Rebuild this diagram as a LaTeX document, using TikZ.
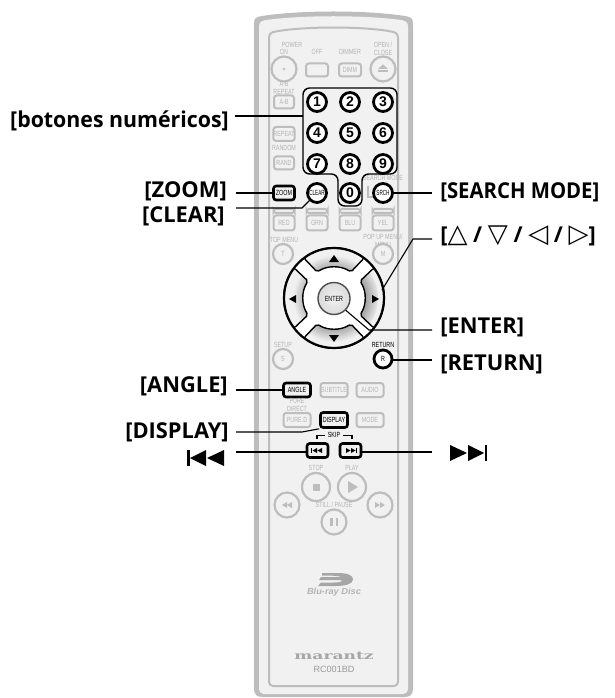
\documentclass[tikz,border=0pt]{standalone}
\usepackage{fontspec}
\setmainfont{Liberation Sans}
\newfontfamily\lblfont{Open Sans}[BoldFont={Open Sans Bold}]
\newfontfamily\symfont{DejaVu Sans}[BoldFont={DejaVu Sans Bold}]
\newfontfamily\serifwide{DejaVu Serif}
\newcommand{\cn}[1]{\scalebox{.72}[1]{#1}}
\newcommand{\tri}[1]{{\fontsize{19.5}{20}\selectfont\symfont\bfseries\char"#1}}
\definecolor{rg}{HTML}{BDBDBD}
\definecolor{rt}{HTML}{B4B4B4}
\definecolor{rbg}{HTML}{F1F1F1}
\tikzset{
  px/.style={line width=#1*.75pt},
  rlabel/.style={inner sep=0pt,font=\fontsize{16.4}{18}\selectfont\lblfont\bfseries,text=black},
  small/.style={inner sep=0pt,text=rt,font=\fontsize{5.6}{5.8}\selectfont,align=center},
  smallb/.style={small,text=black},
  gbox/.style n args={2}{draw=rg,px=2,rounded corners=2pt,fill=rbg,minimum width=#1*.75pt,minimum height=#2*.75pt,inner sep=0pt,text=rt,font=\fontsize{5.6}{6}\selectfont},
  kbox/.style n args={2}{draw=black,px=2.6,rounded corners=2pt,fill=rbg,minimum width=#1*.75pt,minimum height=#2*.75pt,inner sep=0pt,text=black,font=\fontsize{5.6}{6}\selectfont},
  gcirc/.style={circle,draw=rg,px=2.2,fill=rbg,minimum size=#1*1.5pt,inner sep=0pt,text=rt,font=\fontsize{5.6}{6}\selectfont},
  kcirc/.style={circle,draw=black,px=2.8,fill=white,minimum size=#1*1.5pt,inner sep=0pt,text=black,font=\fontsize{5.6}{6}\selectfont},
  digit/.style={kcirc=9.5,font=\fontsize{10.5}{10}\selectfont\bfseries},
  conn/.style={draw=black,px=1.1},
  gicon/.style={fill=rg,draw=none},
  kicon/.style={fill=black,draw=none}
}
\begin{document}
\begin{tikzpicture}[x=.75pt,y=-.75pt]
\useasboundingbox (0,0) rectangle (614,698);
% casing
\path[fill=rg] (254,24) .. controls (254,18) and (256,17) .. (262,16) .. controls (300,10) and (367,10) .. (405,16) .. controls (411,17) and (413,18) .. (413,24) -- (413,688) .. controls (413,695) and (410,697) .. (404,697) -- (263,697) .. controls (257,697) and (254,695) .. (254,688) -- cycle;
\path[fill=rbg] (259,27) .. controls (259,22) and (261,21) .. (266,20) .. controls (303,15) and (364,15) .. (401,20) .. controls (406,21) and (408,22) .. (408,27) -- (408,688) .. controls (408,692) and (406,694) .. (402,694) -- (265,694) .. controls (261,694) and (259,692) .. (259,688) -- cycle;
\draw[rg,px=2,rounded corners=3pt] (269,33) .. controls (300,26) and (367,26) .. (398,33) -- (398,686) -- (269,686) -- cycle;

% top row
\node[small] at (292,45) {\cn{POWER}};
\node[small] at (284,52) {\cn{ON}};
\node[small] at (317,52) {\cn{OFF}};
\node[small] at (350,52) {\cn{DIMMER}};
\node[small] at (383,49) {\cn{OPEN /}\\\cn{CLOSE}};
\node[gcirc=12.5] (on) at (284,69) {};
\fill[rg] (on) circle (1.3);
\node[gbox={22}{13}] (off) at (317,70) {};
\node[gbox={22}{13}] (dimm) at (350,70) {\cn{DIMM}};
\node[gcirc=12.5] (eject) at (383,69) {};
\path[gicon] (378,69) -- (383,64.5) -- (388,69) -- cycle;
\path[gicon] (378,70.5) rectangle (388,72.5);

\node[small] at (284,88) {\cn{A-B}\\\cn{REPEAT}};
\node[gbox={20}{13}] (ab) at (284,102) {\cn{A-B}};
\node[gbox={20}{14}] (repeat) at (284,134) {\cn{REPEAT}};
\node[small] at (284,148) {\cn{RANDOM}};
\node[gbox={20}{13}] (rand) at (284,163) {\cn{RAND}};

% number block
\node[small] at (383,178) {\cn{SEARCH MODE}};
\draw[black,px=1.4,rounded corners=5pt] (303,88) -- (397,88) -- (397,174) -- (362,174) -- (362,206) -- (338,206) -- (338,174) -- (303,174) -- cycle;
\node[digit] (n1) at (317,102) {1};
\node[digit] (n2) at (350,102) {2};
\node[digit] (n3) at (383,102) {3};
\node[digit] (n4) at (317,133) {4};
\node[digit] (n5) at (350,133) {5};
\node[digit] (n6) at (383,133) {6};
\node[digit] (n7) at (317,164) {7};
\node[digit] (n8) at (350,164) {8};
\node[digit] (n9) at (383,164) {9};
\node[digit] (n0) at (350,193) {0};

\draw[rg,px=2] (368,186) -- (368,197) -- (374,197);
\node[kbox={21}{14}] (zoom) at (284,193) {\cn{ZOOM}};
\node[kcirc=9.5] (clear) at (317,193) {\scalebox{.62}[1]{CLEAR}};
\node[kcirc=9.5] (srch) at (383,193) {\scalebox{.62}[1]{SRCH}};

% colour keys
\foreach \nm/\tx/\xx in {red/RED/284,grn/GRN/317,blu/BLU/350,yel/YEL/383}{
  \node[gbox={21}{15}] (\nm) at (\xx,223) {\cn{\tx}};
  \node[gbox={21}{4}] (\nm b) at (\xx,211) {};
}
\node[small] at (284,240) {\cn{TOP MENU}};
\node[small] at (383,241) {\cn{POP UP MENU/}\\\cn{MENU}};
\node[gcirc=10] (t) at (283,254) {\cn{T}};
\node[gcirc=10] (m) at (383,254) {\cn{M}};

% direction pad
\begin{scope}[shift={(334,298)},y=.75pt]
  \fill[white] (0,0) circle (50);
  \foreach \aa/\ab/\ac/\ad/\dk in {53/127/57/123/0, 143/217/147/213/-4, 233/307/237/303/4, -37/37/-33/33/8}{
    \begin{scope}
      \clip[rounded corners=1.5pt] (\aa:50) arc[start angle=\aa,end angle=\ab,radius=50] -- (\ad:31) arc[start angle=\ad,end angle=\ac,radius=31] -- cycle;
      \fill[rbg] (0,0) circle (50);
      \foreach \rr in {44,43,...,30}{
        \pgfmathsetmacro{\tt}{max(6,34+\dk-(\rr-30)*2.2)}
        \fill[black!\tt!white] (0,0) circle (\rr);
      }
    \end{scope}
    \draw[black,px=1.4,rounded corners=1.5pt] (\aa:50) arc[start angle=\aa,end angle=\ab,radius=50] -- (\ad:31) arc[start angle=\ad,end angle=\ac,radius=31] -- cycle;
  }
  \draw[black,px=2.2] (0,0) circle (50);
  \fill[white] (0,0) circle (30);
\end{scope}
\node[circle,draw=black!70,px=1.4,minimum size=32*.75pt,inner sep=0pt,shade,inner color=rbg,outer color=black!14,font=\fontsize{5.6}{6}\selectfont] (enter) at (334,298.5) {\cn{ENTER}};
\path[kicon] (329,262) -- (334,255) -- (339,262) -- cycle;
\path[kicon] (329,335) -- (334,342) -- (339,335) -- cycle;
\path[kicon] (296,295) -- (289,299) -- (296,303) -- cycle;
\path[kicon] (372,295) -- (379,299) -- (372,303) -- cycle;

\node[small] at (283,345) {\cn{SETUP}};
\node[gcirc=10] (s) at (283,359) {\cn{S}};
\node[smallb] at (383,345) {\cn{RETURN}};
\node[kcirc=9] (r) at (383,359) {\cn{R}};

% function keys
\node[kbox={27}{14}] (angle) at (297,390) {\cn{ANGLE}};
\node[gbox={27}{14}] (subtitle) at (334,390) {\cn{SUBTITLE}};
\node[gbox={27}{14}] (audio) at (370,390) {\cn{AUDIO}};
\node[small] at (297,405) {\cn{PURE}\\\cn{DIRECT}};
\node[gbox={27}{14}] (pure) at (297,420) {\cn{PURE.D}};
\node[kbox={27}{15}] (display) at (334,420) {\cn{DISPLAY}};
\node[gbox={27}{14}] (mode) at (370,420) {\cn{MODE}};

\node[smallb] (skip) at (334,435) {\cn{SKIP}};
\draw[black,px=1.6] (317,438.5) -- (317,435.5) -- (325,435.5);
\draw[black,px=1.6] (343,435.5) -- (352,435.5) -- (352,438.5);
\node[kbox={21}{14}] (prev) at (317.5,450.5) {};
\node[kbox={21}{14}] (next) at (350.5,450.5) {};
\path[kicon] (311,448) rectangle (312,453);
\path[kicon] (317,448) -- (312.5,450.5) -- (317,453) -- cycle (322,448) -- (317.5,450.5) -- (322,453) -- cycle;
\path[kicon] (356,448) rectangle (357,453);
\path[kicon] (346,448) -- (350.5,450.5) -- (346,453) -- cycle (351,448) -- (355.5,450.5) -- (351,453) -- cycle;

% transport
\node[small] at (316,468) {\cn{STOP}};
\node[small] at (352,468) {\cn{PLAY}};
\node[gcirc=14] (stop) at (316,487) {};
\node[gcirc=14] (play) at (352,487) {};
\path[gicon] (312.5,483.5) rectangle (319.5,490.5);
\path[gicon] (348,481) -- (358,487) -- (348,493) -- cycle;
\node[gcirc=12.5] (rew) at (287,505) {};
\node[gcirc=12.5] (ff) at (380,505) {};
\path[gicon] (287,502) -- (282,505) -- (287,508) -- cycle (292,502) -- (287,505) -- (292,508) -- cycle;
\path[gicon] (375,502) -- (380,505) -- (375,508) -- cycle (380,502) -- (385,505) -- (380,508) -- cycle;
\node[small] at (334,505) {\cn{STILL / PAUSE}};
\node[gcirc=12.5] (pause) at (334,522) {};
\path[gicon] (330,518) rectangle (332.5,526);
\path[gicon] (335.5,518) rectangle (338,526);

% logos
\path[fill=black!35] (322,573) -- (338,573) .. controls (349,573) and (353,576) .. (353,579.5) .. controls (353,584) and (345,586) .. (336,586) -- (318,586) -- (321,582.5) -- (334,582.5) .. controls (341,582.5) and (343,581) .. (341,580) -- (319,580) -- (321,577) -- (341,577) .. controls (339,576) and (334,575.5) .. (322,575.5) -- cycle;
\node[small,font=\fontsize{6.6}{7}\selectfont\bfseries\itshape] at (334,592) {\scalebox{1.05}[1]{Blu-ray Disc}};
\node[small,font=\fontsize{9.5}{10}\selectfont\serifwide\bfseries,text=black!35] at (334,656) {\scalebox{1.35}[.85]{marantz}};
\node[small,font=\fontsize{6.8}{8}\selectfont,text=black!40] at (334,669) {RC001BD};

% labels
\node[rlabel,anchor=base east] (lnum) at (229,128) {\scalebox{.975}[1]{[botones numéricos]}};
\node[rlabel,anchor=base east] (lzoom) at (227,198) {[ZOOM]};
\node[rlabel,anchor=base east] (lclear) at (225,223) {[CLEAR]};
\node[rlabel,anchor=base east] (langle) at (228,392) {[ANGLE]};
\node[rlabel,anchor=base east] (ldisp) at (229,438) {[DISPLAY]};
\node[rlabel,anchor=base west] (lsearch) at (440,199) {\scalebox{.93}[1]{[SEARCH MODE]}};
\node[rlabel,anchor=base west] (larrows) at (440,243) {[\tri{25B3} / \tri{25BD} / \tri{25C1} / \tri{25B7}]};
\node[rlabel,anchor=base west] (lenter) at (440,333) {[ENTER]};
\node[rlabel,anchor=base west] (lreturn) at (440,370) {[RETURN]};
% skip glyphs
\path[kicon] (187,450) rectangle (189.5,466);
\path[kicon] (206,450) -- (190,458) -- (206,466) -- cycle (224,450) -- (207,458) -- (224,466) -- cycle;
\path[kicon] (484.5,445) rectangle (487,461);
\path[kicon] (450,445) -- (467,453) -- (450,461) -- cycle (468,445) -- (484,453) -- (468,461) -- cycle;

% connectors
\coordinate (cnum) at (235,116);
\coordinate (cnumb) at (303,116);
\coordinate (czoom) at (236,193);
\coordinate (cclear) at (236,208);
\coordinate (cclearb) at (302,208);
\coordinate (cangle) at (236,390);
\coordinate (cdisp) at (236,432);
\coordinate (cdispb) at (302,432);
\coordinate (cprev) at (236,452);
\coordinate (csearch) at (432,193);
\coordinate (carrows) at (432,239);
\coordinate (carrowsb) at (413,239);
\coordinate (carrowse) at (382,290);
\coordinate (center) at (432,330);
\coordinate (centerb) at (369,330);
\coordinate (creturn) at (432,360);
\coordinate (cnext) at (432,452);
\draw[conn] (cnum) -- (cnumb);
\draw[conn] (czoom) -- (zoom.west);
\draw[conn] (cclear) -- (cclearb) -- (clear.225);
\draw[conn] (cangle) -- (angle.west);
\draw[conn] (cdisp) -- (cdispb) -- (display.south west);
\draw[conn] (cprev) -- (prev.west |- cprev);
\draw[conn] (csearch) -- (srch.east);
\draw[conn] (carrows) -- (carrowsb) -- (carrowse);
\draw[conn] (center) -- (centerb) -- (enter.-45);
\draw[conn] (creturn) -- (r.east |- creturn);
\draw[conn] (cnext) -- (next.east |- cnext);
\end{tikzpicture}
\end{document}
